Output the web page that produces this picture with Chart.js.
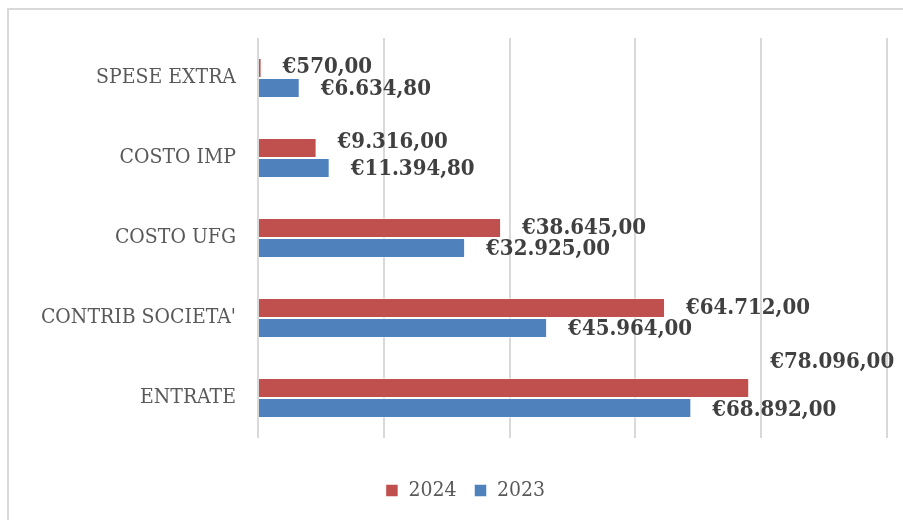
<!DOCTYPE html>
<html>
<head>
<meta charset="utf-8">
<script src="https://cdn.jsdelivr.net/npm/chart.js@4.4.1/dist/chart.umd.min.js"></script>
<style>
  html, body { margin: 0; padding: 0; background: #fff; overflow: hidden; }
  #wrap { position: relative; width: 903px; height: 520px; }
  #frame { position: absolute; left: 7px; top: 8px; width: 1000px; height: 600px; border: 2px solid #d9d9d9; box-sizing: border-box; }
  canvas { position: absolute; left: 0; top: 0; }
</style>
</head>
<body>
<div id="wrap">
  <div id="frame"></div>
  <canvas id="chart" width="903" height="520"></canvas>
</div>
<script>
// Categories top to bottom, as shown in the picture
const categories = ['SPESE EXTRA', 'COSTO IMP', 'COSTO UFG', "CONTRIB SOCIETA'", 'ENTRATE'];
const values2024 = [570, 9316, 38645, 64712, 78096];
const values2023 = [6634.8, 11394.8, 32925, 45964, 68892];
const seriesNames = ['2024', '2023'];
const axisMax = 100000;
const axisStep = 20000;

const serif = '"DejaVu Serif Condensed", "DejaVu Serif", serif';
const fmtEuro = v => '€' + v.toLocaleString('it-IT', { minimumFractionDigits: 2, maximumFractionDigits: 2 });

// Small vertical nudges for the data labels (per dataset, per category)
const labelNudge = [
  [-1, -6, 0, 0, -26],
  [1, 1, 1, 1, 2]
];

const barLabels = {
  id: 'barLabels',
  afterDatasetsDraw(chart) {
    const ctx = chart.ctx;
    ctx.save();
    ctx.font = 'bold 22px ' + serif;
    ctx.fillStyle = '#404040';
    ctx.textAlign = 'left';
    ctx.textBaseline = 'middle';
    chart.data.datasets.forEach((ds, di) => {
      const meta = chart.getDatasetMeta(di);
      meta.data.forEach((bar, i) => {
        ctx.fillText(fmtEuro(ds.data[i]), bar.x + 21, bar.y + labelNudge[di][i]);
      });
    });
    ctx.restore();
  }
};

// legend sits a bit right of the canvas centre in the original
const legendShift = {
  id: 'legendShift',
  afterLayout(chart) {
    chart.legend.left += 14;
    chart.legend.right += 14;
  }
};

new Chart(document.getElementById('chart'), {
  type: 'bar',
  data: {
    labels: categories,
    datasets: [
      { label: seriesNames[0], data: values2024, backgroundColor: '#C0504D', borderColor: 'rgba(255,255,255,0.5)', borderWidth: 1 },
      { label: seriesNames[1], data: values2023, backgroundColor: '#4F81BD', borderColor: 'rgba(255,255,255,0.5)', borderWidth: 1 }
    ]
  },
  options: {
    indexAxis: 'y',
    responsive: false,
    animation: false,
    layout: { padding: { top: 38, right: 16, bottom: 9, left: 16 } },
    datasets: { bar: { categoryPercentage: 0.5, barPercentage: 1.0 } },
    scales: {
      x: {
        min: 0,
        max: axisMax,
        ticks: { display: false, stepSize: axisStep },
        grid: { color: '#d9d9d9', lineWidth: 2, drawTicks: false },
        border: { display: false },
        afterFit(s) { s.height = 24; }
      },
      y: {
        grid: { display: false, drawTicks: false },
        border: { display: false },
        ticks: { color: '#595959', padding: 22, font: { family: serif, size: 21 } },
        afterFit(s) { s.width = 242; }
      }
    },
    plugins: {
      legend: {
        position: 'bottom',
        labels: {
          boxWidth: 12,
          boxHeight: 12,
          padding: 18,
          color: '#595959',
          font: { family: serif, size: 21 }
        }
      },
      tooltip: { enabled: false }
    }
  },
  plugins: [barLabels, legendShift]
});
</script>
</body>
</html>
